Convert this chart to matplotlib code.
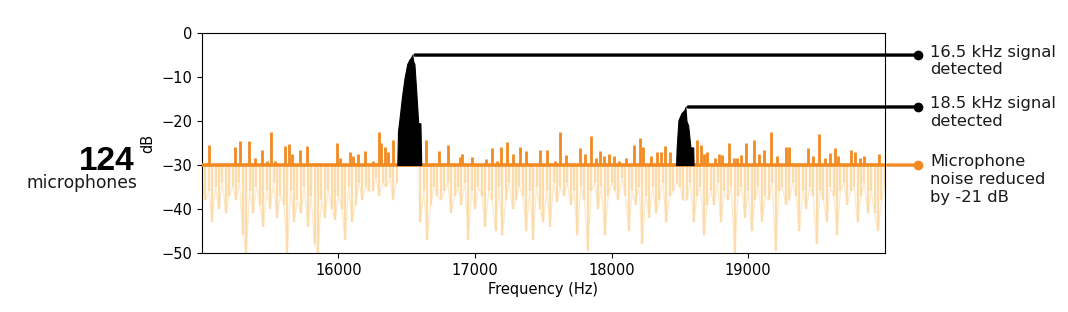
import numpy as np
import matplotlib
matplotlib.use("Agg")
import matplotlib.pyplot as plt

# ---------------- data ----------------
freq_start, freq_step = 15000, 25
noise_raw_db = [
    -33, -38, -36, -43, -35, -40, -34, -41, -37, -35,
    -38, -34, -46, -50, -36, -41, -35, -39, -44, -36,
    -40, -34, -42, -37, -39, -50, -36, -43, -38, -41,
    -35, -44, -37, -48, -50, -38, -42, -36, -40, -42.5,
    -37, -40, -47, -35, -43, -39, -34, -38, -35, -36,
    -36, -33, -37, -34, -35, -33, -38, -34, np.nan, np.nan,
    np.nan, np.nan, np.nan, np.nan, -43, -36, -47, -39, -35, -37,
    -38, -36, -34, -41, -37, -35, -39, -34, -47, -36,
    -40, -35, -37, -44, -36, -38, -45, -35, -46, -38,
    -34, -40, -38, -35, -37, -45, -36, -47, -35, -40,
    -43, -36, -44, -34, -38.5, -35, -37, -34, -39, -36,
    -46, -35, -38, -49.5, -36, -34, -40, -35, -46, -37,
    -34, -36, -38, -33, -37, -45, -36, -39, -35, -48,
    -37, -42, -35, -41, -38, -34, -43, -37, -36, -34,
    -35, -38, -38, -34, -43, -37, -35, -46, -39, -36,
    -39, -34, -43, -36, -38, -35, -50, -37, -35, -42,
    -36, -45, -38, -35, -43, -37, -38, -34, -49.5, -36,
    -35, -39, -38, -34, -37, -45, -36, -40, -35, -37,
    -48, -36, -38, -43, -35, -37, -46, -36, -34, -39,
    -36, -35, -43, -37, -34, -41, -36, -41, -45, -38, -35,
]

spike_freq = [
    15051, 15241, 15277, 15343, 15387, 15438, 15475, 15504, 15533, 15606,
    15635, 15657, 15715, 15767, 15825, 15854, 15986, 16015, 16088, 16110,
    16146, 16197, 16256, 16299, 16314, 16343, 16365, 16402, 16643, 16737,
    16803, 16891, 16905, 16978, 17081, 17124, 17161, 17190, 17234, 17278,
    17329, 17373, 17475, 17526, 17584, 17621, 17665, 17767, 17803, 17847,
    17884, 17913, 17942, 17978, 18015, 18051, 18103, 18161, 18205, 18227,
    18285, 18329, 18358, 18387, 18424, 18628, 18657, 18679, 18701, 18760,
    18789, 18811, 18862, 18898, 18920, 18949, 18986, 19044, 19081, 19117,
    19168, 19212, 19278, 19300, 19438, 19475, 19519, 19562, 19599, 19635,
    19657, 19752, 19781, 19818, 19847, 19957,
]
spike_db = [
    -25.5, -26, -24.5, -24.5, -28.5, -26.6, -29, -22.5, -29, -25.7,
    -25.2, -27.5, -26.6, -25.7, -29.5, -29.5, -25, -28.5, -27, -28,
    -27.5, -26.8, -29, -22.5, -25, -26, -27, -24.3, -24.3, -26.8,
    -25.5, -28.2, -27.5, -28.2, -28.6, -26.1, -29, -25.9, -24.8, -27.5,
    -25.9, -26.8, -26.5, -26.6, -29, -22.5, -27.7, -26.1, -27.5, -23.4,
    -28.5, -26.8, -28, -27.5, -28, -29, -28.5, -25.5, -23.9, -26,
    -28, -27, -27, -25.7, -27, -24.3, -25.5, -27.5, -27, -28.5,
    -27.5, -27.8, -25, -28.5, -28.3, -27.8, -25, -24.3, -27.5, -26.5,
    -22.5, -28, -25.9, -26, -26.1, -28, -23, -28.5, -27.3, -26.1,
    -28, -26.6, -27, -28.5, -28, -27.5,
]

noise_floor_db = -30

sig1_freq = [16431, 16436, 16445, 16467, 16485, 16504, 16520, 16533, 16540,
             16548, 16556, 16570, 16584, 16600, 16606]
sig1_db = [-30, -22.3, -20, -14, -10, -7, -6, -5.5, -5.0,
           -6.5, -7, -13.5, -20.5, -20.5, -30]
sig2_freq = [18472, 18476, 18489, 18511, 18533, 18540, 18548, 18560, 18577,
             18597, 18600]
sig2_db = [-30, -26, -19.8, -18.2, -17.5, -16.8, -20, -21, -26, -26, -30]

labels = ["16.5 kHz signal\ndetected", "18.5 kHz signal\ndetected",
          "Microphone\nnoise reduced\nby -21 dB"]
xticks = [16000, 17000, 18000, 19000]
yticks = [0, -10, -20, -30, -40, -50]

# ---------------- style ----------------
DARK = "#f28a22"
LIGHT = "#fcdcaa"
TXT_FONT = ["DejaVu Sans"]

fig = plt.figure(figsize=(10.68, 3.12), dpi=100)
ax = fig.add_axes([0.189, 0.189, 0.6395, 0.705])

noise_freq = freq_start + freq_step * np.arange(len(noise_raw_db))
ax.vlines(noise_freq, noise_floor_db, noise_raw_db, color=LIGHT, lw=1.7,
          zorder=1)
ax.plot(noise_freq, noise_raw_db, color=LIGHT, lw=0.9, alpha=0.6, zorder=1)
ax.vlines(spike_freq, noise_floor_db, spike_db, color=DARK, lw=2.0, zorder=2)
ax.axhline(noise_floor_db, color=DARK, lw=2.6, zorder=3)
ax.fill_between(sig1_freq, sig1_db, noise_floor_db, color="black", lw=0.8,
                edgecolor="black", zorder=4)
ax.fill_between(sig2_freq, sig2_db, noise_floor_db, color="black", lw=0.8,
                edgecolor="black", zorder=4)

ax.set_xlim(15000, 20000)
ax.set_ylim(-50, 0)
ax.set_xticks(xticks)
ax.set_yticks(yticks)
ax.tick_params(labelsize=10.5)
ax.set_xlabel("Frequency (Hz)", fontsize=10.5, labelpad=3)
ax.set_ylabel("dB", fontsize=10.5, labelpad=4)

# annotations
trans = ax.get_yaxis_transform()
x_dot = 1.048
x_txt = 1.066
i1 = int(np.argmax(sig1_db))
i2 = int(np.argmax(sig2_db))
peaks = [(sig1_freq[i1], sig1_db[i1], "black"),
         (sig2_freq[i2], sig2_db[i2], "black"),
         (20000, noise_floor_db, DARK)]
for (pf, pdb, col), lab in zip(peaks, labels):
    ax.annotate("", xy=(pf + 20, pdb), xycoords="data",
                xytext=(x_dot, pdb), textcoords=trans,
                arrowprops=dict(arrowstyle="-", color=col, lw=2.4,
                                shrinkA=0, shrinkB=0),
                annotation_clip=False, zorder=5)
    ax.plot([x_dot], [pdb], "o", color=col, ms=6, transform=trans,
            clip_on=False, zorder=6)
    ax.text(x_txt, pdb + 2.4, lab, transform=trans, ha="left", va="top",
            fontsize=11.8, family=TXT_FONT, linespacing=1.22, color="#1a1a1a")

fig.text(0.1264, 0.455, "124", ha="right", va="baseline", fontsize=24,
         fontweight="bold", family=["Liberation Sans", "DejaVu Sans"])
fig.text(0.1283, 0.397, "microphones", ha="right", va="baseline",
         fontsize=12.3, family=TXT_FONT, color="#1a1a1a")

fig.savefig("out.png", dpi=100)
